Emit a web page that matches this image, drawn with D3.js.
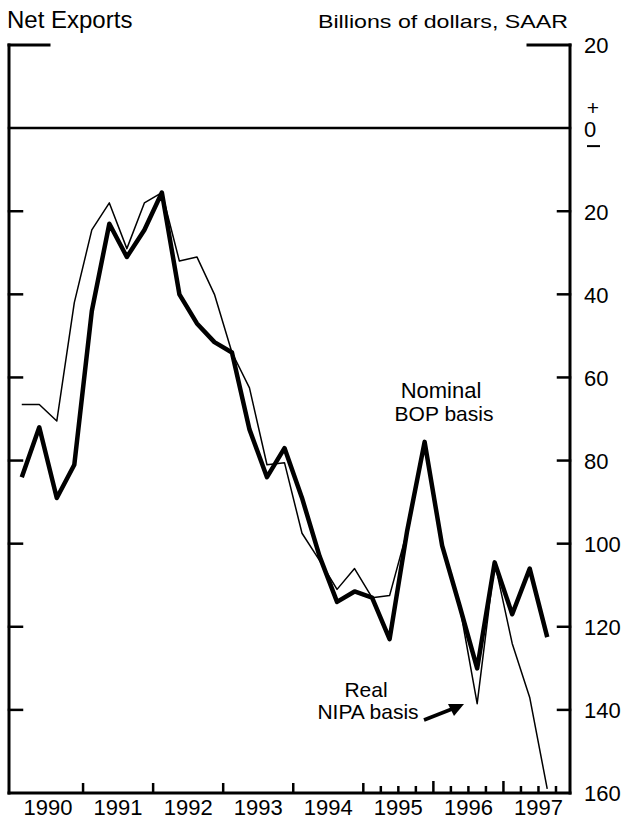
<!DOCTYPE html>
<html>
<head>
<meta charset="utf-8">
<script src="https://cdn.jsdelivr.net/npm/d3@7"></script>
<style>
  html, body { margin: 0; padding: 0; background: #fff; }
  svg { display: block; }
  text { font-family: "Liberation Sans", Arial, Helvetica, sans-serif; fill: #000; }
</style>
</head>
<body>
<svg id="chart" width="630" height="833"></svg>
<script>
// ---- Data (billions of dollars, SAAR; quarterly 1990Q1 - 1997Q3) ----
const quarters = d3.range(31); // 0 = 1990Q1
const nominalBOP = [-84, -72, -89, -81, -44, -23, -31, -24.5, -15.5, -40, -47, -51.5, -54,
  -72.5, -84, -77, -89, -103, -114, -111.5, -113, -123, -97, -75.5, -100.5, -115, -130,
  -104.5, -117, -106, -122.5];
const realNIPA = [-66.5, -66.5, -70.5, -42, -24.5, -18, -29, -18, -15.5, -32, -31, -40, -54,
  -62.5, -81, -80.5, -97.5, -104, -111, -106, -113, -112.5, -97, -75.5, -100, -115, -138.5,
  -104.5, -124, -137, -159];
const yearLabels = ["1990", "1991", "1992", "1993", "1994", "1995", "1996", "1997"];
const yTicks = [20, 0, -20, -40, -60, -80, -100, -120, -140, -160];

const svg = d3.select("#chart");
const pL = 9, pR = 570, pT = 45, pB = 793;

const x = d3.scaleLinear().domain([0, 32]).range([13, 573.5]);
const y = d3.scaleLinear().domain([20, -160]).range([pT, pB]);

// Frame
const frame = svg.append("g").attr("stroke", "#000").attr("fill", "none")
  .attr("stroke-linecap", "square");
frame.append("line").attr("x1", pL).attr("x2", pL).attr("y1", pT).attr("y2", pB).attr("stroke-width", 3);
frame.append("line").attr("x1", pR).attr("x2", pR).attr("y1", pT).attr("y2", pB).attr("stroke-width", 3);
frame.append("line").attr("x1", pL).attr("x2", pR).attr("y1", pB).attr("y2", pB).attr("stroke-width", 3);
frame.append("line").attr("x1", pL).attr("x2", 49).attr("y1", pT).attr("y2", pT).attr("stroke-width", 3);
frame.append("line").attr("x1", 528).attr("x2", pR).attr("y1", pT).attr("y2", pT).attr("stroke-width", 3);
frame.append("line").attr("x1", pL).attr("x2", pR).attr("y1", y(0)).attr("y2", y(0)).attr("stroke-width", 2.5);

// Inner y ticks on both sides
const innerTicks = yTicks.filter(v => v < 0 && v > -160);
innerTicks.forEach(v => {
  frame.append("line").attr("x1", pL).attr("x2", pL + 13).attr("y1", y(v)).attr("y2", y(v)).attr("stroke-width", 2.5);
  frame.append("line").attr("x1", pR).attr("x2", pR - 12).attr("y1", y(v)).attr("y2", y(v)).attr("stroke-width", 2.5);
});

// Right axis labels via d3 axis (lines hidden)
const yAxis = d3.axisRight(y).tickValues(yTicks).tickSize(0).tickPadding(0)
  .tickFormat(v => Math.abs(v));
const ya = svg.append("g").attr("transform", `translate(584,0)`).call(yAxis);
ya.select(".domain").remove();
ya.selectAll("text").attr("font-size", 22).attr("font-family", '"Liberation Sans", Arial, sans-serif')
  .attr("fill", "#000").attr("dy", "0.36em");
svg.append("text").attr("x", 593).attr("y", y(0) - 21).attr("text-anchor", "middle")
  .attr("dominant-baseline", "central").attr("font-size", 21).text("+");
svg.append("line").attr("x1", 587).attr("x2", 600).attr("y1", y(0) + 18).attr("y2", y(0) + 18)
  .attr("stroke", "#000").attr("stroke-width", 2);

// X axis: year ticks and quarterly ticks from 1995
const xTicks = svg.append("g").attr("stroke", "#000");
for (let q = 4; q < 32; q++) {
  const isYear = q % 4 === 0;
  if (!isYear && q < 20) continue;
  const h = isYear ? (q >= 24 ? 12 : 10) : 7;
  xTicks.append("line").attr("x1", x(q)).attr("x2", x(q)).attr("y1", pB).attr("y2", pB - h)
    .attr("stroke-width", 2.5);
}
svg.append("g").selectAll("text").data(yearLabels).join("text")
  .attr("x", (d, i) => x(i * 4 + 2)).attr("y", 815).attr("text-anchor", "middle")
  .attr("font-size", 22).text(d => d);

// Lines
const line = d3.line().x((d, i) => x(i + 0.5)).y(d => y(d));
svg.append("path").datum(realNIPA).attr("d", line).attr("fill", "none")
  .attr("stroke", "#000").attr("stroke-width", 1.5).attr("stroke-linejoin", "round");
svg.append("path").datum(nominalBOP).attr("d", line).attr("fill", "none")
  .attr("stroke", "#000").attr("stroke-width", 4.5).attr("stroke-linejoin", "round");

// Titles
svg.append("text").attr("x", 7).attr("y", 28).attr("font-size", 24).text("Net Exports");
svg.append("text").attr("x", 318).attr("y", 28).attr("font-size", 19)
  .attr("textLength", 250).attr("lengthAdjust", "spacingAndGlyphs")
  .text("Billions of dollars, SAAR");

// Annotations
svg.append("text").attr("x", 441).attr("y", 398).attr("text-anchor", "middle").attr("font-size", 22).text("Nominal");
svg.append("text").attr("x", 444).attr("y", 421).attr("text-anchor", "middle").attr("font-size", 21).text("BOP basis");
svg.append("text").attr("x", 366).attr("y", 697).attr("text-anchor", "middle").attr("font-size", 21).text("Real");
svg.append("text").attr("x", 368).attr("y", 719).attr("text-anchor", "middle").attr("font-size", 21).text("NIPA basis");

// Arrow
svg.append("line").attr("x1", 424).attr("y1", 720).attr("x2", 452).attr("y2", 709)
  .attr("stroke", "#000").attr("stroke-width", 3.5);
svg.append("path").attr("d", "M464,704 L448,704 L454,716 Z").attr("fill", "#000");
</script>
</body>
</html>
